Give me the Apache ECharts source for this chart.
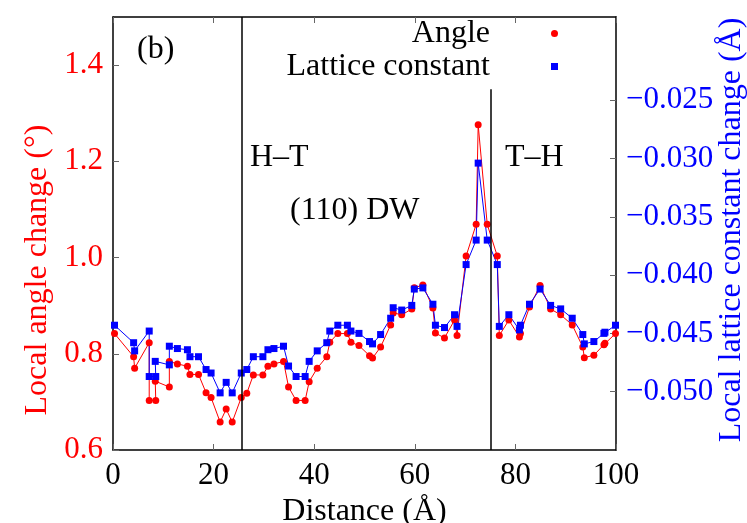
<!DOCTYPE html>
<html>
<head>
<meta charset="utf-8">
<script src="https://cdn.jsdelivr.net/npm/echarts@6/dist/echarts.min.js"></script>
<style>
  html, body { margin: 0; padding: 0; background: #fff; }
  #chart { width: 747px; height: 523px; }
</style>
</head>
<body>
<div id="chart"></div>
<script>
// positions along the wall normal (Å)
const distance = [0.3, 4.1, 4.3, 7.2, 7.2, 8.5, 8.4, 11.2, 11.2, 12.8, 14.8, 15.3, 17.0, 18.5, 19.5, 21.3, 22.5, 23.7,
  25.5, 26.6, 27.9, 29.8, 30.8, 32.0, 33.9, 34.9, 36.4, 38.2, 39.0, 40.6, 42.5, 43.1, 44.7, 46.6, 47.3, 48.9,
  51.0, 51.6, 53.2, 55.2, 55.7, 57.4, 59.4, 59.9, 61.6, 63.6, 64.1, 65.9, 67.9, 68.4, 70.2, 72.2, 72.6, 74.4,
  76.4, 76.8, 78.7, 80.8, 81.0, 82.8, 84.9, 87.0, 89.0, 91.3, 93.4, 93.7, 95.6, 97.6, 97.8, 99.9];

// local angle change (deg)
const angle = [0.842, 0.794, 0.770, 0.823, 0.703, 0.703, 0.743, 0.731, 0.784, 0.779, 0.774, 0.757, 0.757, 0.719, 0.709, 0.658, 0.685, 0.658,
  0.709, 0.718, 0.756, 0.756, 0.774, 0.779, 0.784, 0.731, 0.703, 0.703, 0.742, 0.770, 0.794, 0.824, 0.842, 0.842, 0.824, 0.817,
  0.796, 0.791, 0.814, 0.860, 0.885, 0.881, 0.893, 0.937, 0.943, 0.895, 0.843, 0.833, 0.870, 0.838, 1.003, 1.069, 1.276, 1.069,
  1.003, 0.838, 0.870, 0.835, 0.842, 0.897, 0.942, 0.893, 0.881, 0.860, 0.814, 0.792, 0.797, 0.819, 0.822, 0.842];

// local lattice constant change (Å)
const lattice = [-0.0443, -0.0458, -0.0465, -0.0448, -0.0487, -0.0487, -0.0474, -0.0477, -0.0461, -0.0463, -0.0464, -0.0470, -0.0470, -0.0481, -0.0484, -0.0501, -0.0492, -0.0501,
  -0.0484, -0.0481, -0.0470, -0.0470, -0.0464, -0.0463, -0.0461, -0.0478, -0.0487, -0.0487, -0.0474, -0.0465, -0.0458, -0.0448, -0.0443, -0.0443, -0.0448, -0.0450,
  -0.0457, -0.0459, -0.0451, -0.0437, -0.0428, -0.0430, -0.0426, -0.0412, -0.0411, -0.0425, -0.0443, -0.0445, -0.0434, -0.0444, -0.0391, -0.0370, -0.0304, -0.0370,
  -0.0391, -0.0444, -0.0434, -0.0447, -0.0443, -0.0425, -0.0412, -0.0426, -0.0429, -0.0437, -0.0451, -0.0459, -0.0457, -0.0450, -0.0449, -0.0443];

const xTicks = [0, 20, 40, 60, 80, 100];
const angleTicks = [0.6, 0.8, 1.0, 1.2, 1.4];
const latticeTicks = [-0.050, -0.045, -0.040, -0.035, -0.030, -0.025];
const wallLines = [25.6, 75.0];

const FONT = 'Liberation Serif';

const chart = echarts.init(document.getElementById('chart'));

const tickStyle = { show: true, inside: true, length: 6, lineStyle: { color: '#666', width: 1 } };
const frame = { show: true, onZero: false, lineStyle: { color: '#000', width: 1.5 } };

chart.setOption({
  animation: false,
  backgroundColor: '#fff',
  textStyle: { fontFamily: FONT },
  grid: { left: 113, right: 131, top: 17, bottom: 73, outerBoundsMode: 'none', containLabel: false },
  legend: {
    data: [
      { name: 'Angle', icon: 'circle' },
      { name: 'Lattice constant', icon: 'rect' }
    ],
    orient: 'vertical',
    align: 'right',
    right: 189,
    top: 17,
    padding: 0,
    itemGap: 0,
    itemWidth: 7,
    itemHeight: 7,
    textStyle: { fontFamily: FONT, fontSize: 32, color: '#000', lineHeight: 33, padding: [0, 56, 0, 0] }
  },
  xAxis: [
    {
      type: 'value', min: 0, max: 100, interval: 20,
      name: 'Distance (Å)', nameLocation: 'middle', nameGap: 31,
      nameTextStyle: { fontFamily: FONT, fontSize: 32, color: '#000' },
      axisLine: frame,
      axisTick: Object.assign({ customValues: xTicks }, tickStyle),
      axisLabel: { customValues: xTicks, fontFamily: FONT, fontSize: 31, color: '#000', margin: 10 },
      splitLine: { show: false }
    },
    {
      type: 'value', position: 'top', min: 0, max: 100, interval: 20,
      axisLine: frame,
      axisTick: Object.assign({ customValues: xTicks }, tickStyle),
      axisLabel: { show: false },
      splitLine: { show: false }
    }
  ],
  yAxis: [
    {
      type: 'value', position: 'left', min: 0.6, max: 1.5,
      axisLine: frame,
      axisTick: Object.assign({ customValues: angleTicks }, tickStyle),
      axisLabel: {
        customValues: angleTicks, fontFamily: FONT, fontSize: 31, color: '#ff0000', margin: 10,
        formatter: v => v.toFixed(1)
      },
      splitLine: { show: false }
    },
    {
      type: 'value', position: 'right', min: -0.055, max: -0.01787,
      axisLine: frame,
      axisTick: Object.assign({ customValues: latticeTicks }, tickStyle),
      axisLabel: {
        customValues: latticeTicks, fontFamily: FONT, fontSize: 31, color: '#0000ff', margin: 10,
        formatter: v => '\u2212' + Math.abs(v).toFixed(3)
      },
      splitLine: { show: false }
    }
  ],
  graphic: [
    { type: 'text', left: 137, top: 34, style: { text: '(b)', font: '32px "Liberation Serif"', fill: '#000' } },
    { type: 'text', left: 250, top: 142, style: { text: 'H\u2013T', font: '32px "Liberation Serif"', fill: '#000' } },
    { type: 'text', left: 290, top: 195, style: { text: '(110) DW', font: '32px "Liberation Serif"', fill: '#000' } },
    { type: 'text', left: 505, top: 142, style: { text: 'T\u2013H', font: '32px "Liberation Serif"', fill: '#000' } },
    {
      type: 'text', x: 38, y: 270, rotation: Math.PI / 2,
      style: { text: 'Local angle change (°)', font: '32px "Liberation Serif"', fill: '#ff0000', align: 'center', verticalAlign: 'middle' }
    },
    {
      type: 'text', x: 732, y: 230, rotation: Math.PI / 2,
      style: { text: 'Local lattice constant change (Å)', font: '32px "Liberation Serif"', fill: '#0000ff', align: 'center', verticalAlign: 'middle' }
    }
  ],
  series: [
    {
      name: 'Angle', type: 'line', yAxisIndex: 0,
      data: distance.map((d, i) => [d, angle[i]]),
      symbol: 'circle', symbolSize: 7, showSymbol: true, showAllSymbol: true,
      itemStyle: { color: '#ff0000' },
      lineStyle: { color: '#ff0000', width: 1 },
      markLine: {
        silent: true, symbol: 'none', label: { show: false },
        lineStyle: { color: '#000', width: 1.5, type: 'solid' },
        data: [
          [{ coord: [wallLines[0], 0.6] }, { coord: [wallLines[0], 1.5] }],
          [{ coord: [wallLines[1], 0.6] }, { coord: [wallLines[1], 1.35] }]
        ]
      }
    },
    {
      name: 'Lattice constant', type: 'line', yAxisIndex: 1,
      data: distance.map((d, i) => [d, lattice[i]]),
      symbol: 'rect', symbolSize: 7, showSymbol: true, showAllSymbol: true,
      itemStyle: { color: '#0000ff' },
      lineStyle: { color: '#0000ff', width: 1 }
    }
  ]
});
</script>
</body>
</html>
